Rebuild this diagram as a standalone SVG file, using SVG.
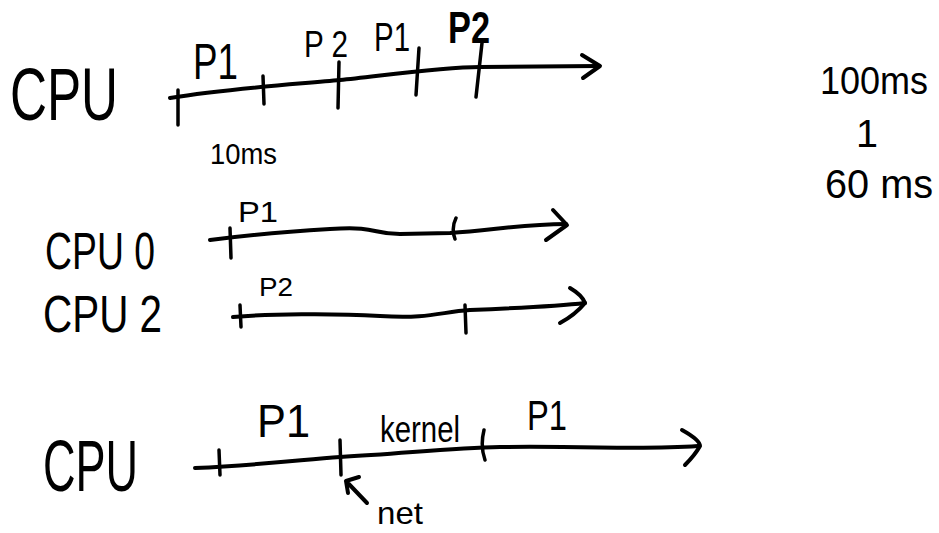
<svg xmlns="http://www.w3.org/2000/svg" width="939" height="533" viewBox="0 0 939 533">
  <style>
    .ink { fill: none; stroke: #000; stroke-width: 4; stroke-linecap: round; stroke-linejoin: round; }
    .tick { fill: none; stroke: #000; stroke-width: 3.5; stroke-linecap: round; }
    text { font-family: "Liberation Sans", "DejaVu Sans", sans-serif; fill: #000; }
  </style>
  <rect width="939" height="533" fill="#fff"/>

  <!-- Timeline 1: single CPU, time-sliced -->
  <g id="cpu-a">
    <text x="10" y="120" font-size="74" textLength="108" lengthAdjust="spacingAndGlyphs">CPU</text>
    <path class="ink" d="M170,98 C230,88 300,84 340,80 S440,67 480,67 L598,66"/>
    <path class="ink" d="M582,55 L600,66 L583,78"/>
    <path class="tick" d="M178,90 L178,125 M263,76 L264,104 M339,62 L338,108 M419,48 L416,95 M482,43 L476,97"/>
    <text x="193" y="79" font-size="50" textLength="45" lengthAdjust="spacingAndGlyphs">P1</text>
    <text x="304" y="57" font-size="36" textLength="44" lengthAdjust="spacingAndGlyphs">P 2</text>
    <text x="374" y="51" font-size="40" textLength="36" lengthAdjust="spacingAndGlyphs">P1</text>
    <text x="448" y="43" font-size="44" font-weight="bold" textLength="42" lengthAdjust="spacingAndGlyphs">P2</text>
    <text x="210" y="164" font-size="30" textLength="67" lengthAdjust="spacingAndGlyphs">10ms</text>
  </g>

  <!-- Side note -->
  <g id="note">
    <text x="820" y="94" font-size="38" textLength="108" lengthAdjust="spacingAndGlyphs">100ms</text>
    <text x="856" y="147" font-size="38" textLength="22" lengthAdjust="spacingAndGlyphs">1</text>
    <text x="825" y="198" font-size="40" textLength="108" lengthAdjust="spacingAndGlyphs">60 ms</text>
  </g>

  <!-- Timeline 2: CPU0 -->
  <g id="cpu0">
    <text x="45" y="269" font-size="52" textLength="110" lengthAdjust="spacingAndGlyphs">CPU 0</text>
    <path class="ink" d="M210,240 C240,236 280,232 330,229 S370,234 400,234 L450,233 C490,231 520,224 566,224"/>
    <path class="ink" d="M553,210 L567,225 L546,240"/>
    <path class="tick" d="M230,228 L231,258 M456,218 Q451,228 455,239"/>
    <text x="238" y="222" font-size="30" textLength="40" lengthAdjust="spacingAndGlyphs">P1</text>
  </g>

  <!-- Timeline 3: CPU 2 -->
  <g id="cpu2">
    <text x="43" y="332" font-size="52" textLength="119" lengthAdjust="spacingAndGlyphs">CPU 2</text>
    <path class="ink" d="M233,317 C270,314 330,313 380,316 S440,312 470,310 C520,308 560,306 585,303"/>
    <path class="ink" d="M570,288 Q582,295 585,303 Q575,315 560,323"/>
    <path class="tick" d="M240,305 L241,327 M465,305 L466,333"/>
    <text x="259" y="296" font-size="26" textLength="34" lengthAdjust="spacingAndGlyphs">P2</text>
  </g>

  <!-- Timeline 4: CPU with kernel interrupt -->
  <g id="cpu-b">
    <text x="43" y="491" font-size="72" textLength="95" lengthAdjust="spacingAndGlyphs">CPU</text>
    <path class="ink" d="M195,468 C260,465 300,460 340,457 C400,454 450,448 500,447 C600,446 640,450 698,446"/>
    <path class="ink" d="M682,430 Q700,440 700,446 Q695,455 685,465"/>
    <path class="tick" d="M219,450 L220,475 M340,440 L341,475 M484,430 Q480,446 485,460"/>
    <text x="257" y="437" font-size="46" textLength="53" lengthAdjust="spacingAndGlyphs">P1</text>
    <text x="380" y="442" font-size="36" textLength="80" lengthAdjust="spacingAndGlyphs">kernel</text>
    <text x="527" y="430" font-size="42" textLength="40" lengthAdjust="spacingAndGlyphs">P1</text>
  </g>

  <g id="net">
    <text x="377" y="524" font-size="32" textLength="46" lengthAdjust="spacingAndGlyphs">net</text>
  </g>

  <!-- Connectors -->
  <g id="connectors">
    <path class="ink" d="M367,503 L346,481 M346,481 L359,477 M346,481 L348,493"/>
  </g>
</svg>
